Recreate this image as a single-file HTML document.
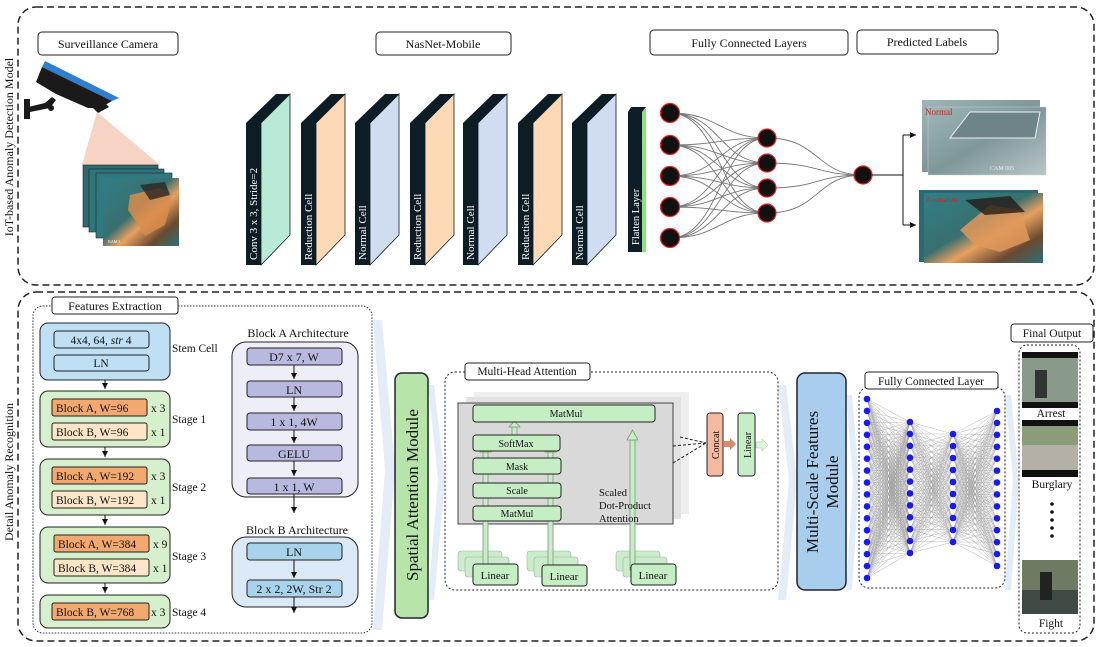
<!DOCTYPE html>
<html><head><meta charset="utf-8"><style>
body{margin:0;background:#fff;width:1099px;height:647px;overflow:hidden}
svg{display:block}
text{font-family:"Liberation Serif",serif;fill:#111}
</style></head><body>
<svg id="s" width="1099" height="647" viewBox="0 0 1099 647" xmlns="http://www.w3.org/2000/svg">
<defs>
<linearGradient id="fire" x1="0" y1="0" x2="1" y2="1"><stop offset="0" stop-color="#2f7f86"/><stop offset="0.45" stop-color="#3a6f70"/><stop offset="0.6" stop-color="#e8a060"/><stop offset="0.8" stop-color="#6a4a30"/><stop offset="1" stop-color="#2c6f79"/></linearGradient>
<linearGradient id="room" x1="0" y1="0" x2="1" y2="1"><stop offset="0" stop-color="#9fb6b8"/><stop offset="0.5" stop-color="#7f9799"/><stop offset="1" stop-color="#b9c6c8"/></linearGradient>
<marker id="ah" markerWidth="8" markerHeight="8" refX="6" refY="3" orient="auto"><path d="M0,0 L6,3 L0,6z" fill="#111"/></marker>
</defs>
<rect x="18" y="7" width="1076" height="278" rx="18" fill="none" stroke="#222" stroke-width="1.5" stroke-dasharray="7,4"/>
<rect x="18" y="292" width="1076" height="349" rx="18" fill="none" stroke="#222" stroke-width="1.5" stroke-dasharray="7,4"/>
<text transform="translate(13,147) rotate(-90)" font-size="12" text-anchor="middle">IoT-based Anomaly Detection Model</text>
<text transform="translate(13,472) rotate(-90)" font-size="12" text-anchor="middle">Detail Anomaly Recognition</text>

<g font-size="12" text-anchor="middle">
<rect x="38" y="32" width="140" height="23" rx="4" fill="#fff" stroke="#222"/><text x="108" y="48">Surveillance Camera</text>
<rect x="376" y="32" width="135" height="23" rx="4" fill="#fff" stroke="#222"/><text x="443" y="48">NasNet-Mobile</text>
<rect x="650" y="30" width="198" height="25" rx="4" fill="#fff" stroke="#222"/><text x="749" y="47">Fully Connected Layers</text>
<rect x="857" y="30" width="141" height="24" rx="4" fill="#fff" stroke="#222"/><text x="927" y="46">Predicted Labels</text>
</g>

<!-- camera -->
<path d="M45,61 L119,98 L112,101 L42,67z" fill="#2e7fd0"/>
<path d="M42,67 L112,101 L100,108 L88,108 L56,94 L36,82 Z" fill="#1a1a1a"/>
<path d="M93,108 L104,102 L109,107 L98,113z" fill="#1a1a1a"/>
<path d="M28,107 L45,103 L52,97 L56,100 L50,108 L30,112z" fill="#1a1a1a"/>
<rect x="24" y="99" width="6" height="20" fill="#1a1a1a"/>
<circle cx="51" cy="108" r="3" fill="#1a1a1a"/>
<path d="M97,112 L82,165 L160,165 Z" fill="#f6d3c2"/>
<g>
<rect x="83" y="165" width="75" height="62" fill="#2a6a70" stroke="#222" stroke-width="0.6"/>
<rect x="89" y="169" width="75" height="63" fill="#2f767c" stroke="#222" stroke-width="0.6"/>
<rect x="96" y="173" width="76" height="65" fill="#2f7a80" stroke="#222" stroke-width="0.6"/>
<rect x="103" y="178" width="76" height="68" fill="url(#fire)"/>
<path d="M130,195 L160,188 L172,200 L165,225 L145,236 L135,220 L128,210z" fill="#d98c4c" opacity="0.85"/>
<path d="M140,185 L165,182 L170,195 L150,200z" fill="#2b2522" opacity="0.8"/>
<text x="108" y="243" font-size="4" style="fill:#fff">KAM 2</text>
</g>

<g id="cells"></g>
<rect x="628" y="112" width="14" height="140" fill="#0d1d26"/>
<rect x="642" y="109" width="4" height="143" fill="#8fe080"/>
<path d="M628,112 L631,107 L646,107 L642,112z" fill="#0d1d26"/>
<text transform="translate(639,245) rotate(-90)" font-size="10.5" style="fill:#fff">Flatten Layer</text>

<g id="topfc"></g>
<path d="M872,175 L903,175 M903,135 L903,225" stroke="#111" fill="none"/>
<path d="M903,135 L916,135" stroke="#111" marker-end="url(#ah)"/>
<path d="M903,225 L916,225" stroke="#111" marker-end="url(#ah)"/>
<rect x="922" y="100" width="118" height="72" fill="url(#room)"/>
<rect x="928" y="107" width="118" height="68" fill="url(#room)" stroke="#ccc" stroke-width="0.5"/>
<path d="M950,138 L970,112 L1040,112 L1035,138z" fill="#6e8488" stroke="#eee" stroke-width="1"/>
<text x="925" y="115" font-size="9" style="fill:#c22">Normal</text>
<text x="990" y="170" font-size="6" style="fill:#eee">CAM 005</text>
<rect x="919" y="190" width="119" height="72" fill="#2a6a70"/>
<rect x="924" y="193" width="119" height="70" fill="url(#fire)"/>
<path d="M960,230 L990,205 L1020,210 L1030,240 L1000,252 L975,245z" fill="#e0985a" opacity="0.85"/>
<path d="M965,200 L1010,196 L1025,212 L985,215z" fill="#241c18" opacity="0.8"/>
<text x="926" y="202" font-size="7" style="fill:#c22">Anomalous</text>

<g fill="#e3ecf7">
<path d="M373,320 L382,320 L395,470 L382,630 L373,630 L385,470z"/>
<path d="M428,385 L434,385 L445,480 L434,600 L428,600 L438,480z"/>
<path d="M778,385 L786,385 L797,480 L786,600 L778,600 L789,480z"/>
<path d="M846,395 L852,395 L859,480 L852,590 L846,590 L853,480z"/>
<path d="M1005,395 L1011,395 L1019,480 L1011,590 L1005,590 L1013,480z"/>
</g>

<rect x="33" y="306" width="339" height="327" rx="10" fill="none" stroke="#334" stroke-dasharray="1.5,1.5"/>
<rect x="52" y="297" width="126" height="17" rx="3" fill="#fff" stroke="#222"/>
<text x="115" y="310" font-size="12" text-anchor="middle">Features Extraction</text>
<g font-size="11.5">
<rect x="40" y="323" width="130" height="57" rx="8" fill="#bfe0f4" stroke="#222"/>
<rect x="54" y="331" width="95" height="17" rx="3" fill="#bfe0f4" stroke="#222"/><text x="101" y="344" text-anchor="middle">4x4, 64, <tspan font-style="italic">str</tspan> 4</text>
<rect x="54" y="355" width="95" height="16" rx="3" fill="#bfe0f4" stroke="#222"/><text x="101" y="367" text-anchor="middle">LN</text>
<text x="172" y="352">Stem Cell</text>
<rect x="40" y="391" width="130" height="56" rx="8" fill="#d6efcc" stroke="#222"/>
<rect x="52" y="399" width="95" height="17" rx="2" fill="#f3a870" stroke="#222"/><text x="56" y="412">Block A, W=96</text><text x="151" y="412">x 3</text>
<rect x="52" y="423" width="95" height="17" rx="2" fill="#fde6c8" stroke="#222"/><text x="56" y="436">Block B, W=96</text><text x="151" y="436">x 1</text>
<text x="172" y="423">Stage 1</text>
<rect x="40" y="459" width="130" height="56" rx="8" fill="#d6efcc" stroke="#222"/>
<rect x="52" y="467" width="95" height="17" rx="2" fill="#f3a870" stroke="#222"/><text x="56" y="480">Block A, W=192</text><text x="151" y="480">x 3</text>
<rect x="52" y="491" width="95" height="17" rx="2" fill="#fde6c8" stroke="#222"/><text x="56" y="504">Block B, W=192</text><text x="151" y="504">x 1</text>
<text x="172" y="491">Stage 2</text>
<rect x="40" y="527" width="130" height="56" rx="8" fill="#d6efcc" stroke="#222"/>
<rect x="54" y="535" width="95" height="17" rx="2" fill="#f3a870" stroke="#222"/><text x="58" y="548">Block A, W=384</text><text x="153" y="548">x 9</text>
<rect x="54" y="559" width="95" height="17" rx="2" fill="#fde6c8" stroke="#222"/><text x="58" y="572">Block B, W=384</text><text x="153" y="572">x 1</text>
<text x="172" y="560">Stage 3</text>
<rect x="40" y="595" width="130" height="33" rx="8" fill="#d6efcc" stroke="#222"/>
<rect x="52" y="603" width="97" height="17" rx="2" fill="#f3a870" stroke="#222"/><text x="56" y="616">Block B, W=768</text><text x="151" y="616">x 3</text>
<text x="172" y="616">Stage 4</text>
</g>
<g stroke="#111" fill="none" marker-end="url(#ah)">
<path d="M105,380 V389"/><path d="M105,447 V457"/><path d="M105,515 V525"/><path d="M105,583 V593"/>
</g>

<g font-size="12" text-anchor="middle">
<text x="298" y="337">Block A Architecture</text>
<rect x="232" y="342" width="126" height="155" rx="14" fill="#eeeef8" stroke="#222"/>
<rect x="247" y="348" width="95" height="17" rx="3" fill="#b9b9e0" stroke="#222"/><text x="294" y="361">D7 x 7, W</text>
<rect x="247" y="381" width="95" height="16" rx="3" fill="#b9b9e0" stroke="#222"/><text x="294" y="394">LN</text>
<rect x="247" y="413" width="95" height="17" rx="3" fill="#b9b9e0" stroke="#222"/><text x="294" y="426">1 x 1, 4W</text>
<rect x="247" y="445" width="95" height="16" rx="3" fill="#b9b9e0" stroke="#222"/><text x="294" y="458">GELU</text>
<rect x="247" y="478" width="95" height="16" rx="3" fill="#b9b9e0" stroke="#222"/><text x="294" y="491">1 x 1, W</text>
<text x="297" y="534">Block B Architecture</text>
<rect x="232" y="537" width="126" height="70" rx="14" fill="#dbe9f7" stroke="#222"/>
<rect x="247" y="543" width="95" height="17" rx="3" fill="#a9d3ea" stroke="#222"/><text x="294" y="556">LN</text>
<rect x="247" y="580" width="95" height="17" rx="3" fill="#a9d3ea" stroke="#222"/><text x="294" y="593">2 x 2, 2W, Str 2</text>
</g>
<g stroke="#111" fill="none" marker-end="url(#ah)">
<path d="M294,365 V379"/><path d="M294,397 V411"/><path d="M294,430 V443"/><path d="M294,461 V476"/><path d="M294,494 V513"/>
<path d="M294,560 V578"/><path d="M294,597 V613"/>
</g>

<rect x="395" y="373" width="33" height="245" rx="7" fill="#b7e4a9" stroke="#223" stroke-width="1.5"/>
<text transform="translate(418,495) rotate(-90)" font-size="17" text-anchor="middle">Spatial Attention Module</text>

<rect x="445" y="372" width="333" height="218" rx="10" fill="none" stroke="#222" stroke-dasharray="2,2"/>
<rect x="465" y="363" width="125" height="17" rx="3" fill="#fff" stroke="#222"/>
<text x="527" y="375" font-size="11.5" text-anchor="middle">Multi-Head Attention</text>
<rect x="474" y="392" width="215" height="122" fill="#eeeeee"/>
<rect x="466" y="397" width="215" height="122" fill="#e2e2e2"/>
<rect x="458" y="403" width="215" height="121" fill="#d9d9d9" stroke="#444"/>
<g fill="#c6e9c4" stroke="#8aa" stroke-width="0.6" opacity="0.9">
<rect x="458" y="551" width="44" height="20" rx="3"/><rect x="465" y="557" width="44" height="20" rx="3"/>
<rect x="527" y="551" width="44" height="20" rx="3"/><rect x="534" y="557" width="44" height="20" rx="3"/>
<rect x="616" y="551" width="44" height="20" rx="3"/><rect x="623" y="557" width="44" height="20" rx="3"/>
</g>
<g fill="#c9ebc6" stroke="#7a9a7a" stroke-width="0.8">
<rect x="483" y="452" width="5" height="120"/><rect x="548" y="452" width="5" height="120"/><rect x="630" y="440" width="5" height="130"/>
<path d="M627,440 L632.5,430 L638,440z"/>
<path d="M480,452 L485.5,446 L491,452z"/><path d="M545,452 L550.5,446 L556,452z"/>
<rect x="512" y="427" width="5" height="8"/><path d="M509,427 L514.5,421 L520,427z"/>
</g>
<g font-size="10" text-anchor="middle">
<rect x="473" y="405" width="182" height="17" rx="3" fill="#c6eec4" stroke="#222"/><text x="566" y="417">MatMul</text>
<rect x="473" y="435" width="87" height="16" rx="3" fill="#c6eec4" stroke="#222"/><text x="516" y="447">SoftMax</text>
<rect x="473" y="458" width="88" height="16" rx="3" fill="#c6eec4" stroke="#222"/><text x="517" y="470">Mask</text>
<rect x="473" y="483" width="88" height="15" rx="3" fill="#c6eec4" stroke="#222"/><text x="517" y="494">Scale</text>
<rect x="473" y="506" width="88" height="15" rx="3" fill="#c6eec4" stroke="#222"/><text x="517" y="517">MatMul</text>
</g>
<text x="599" y="496" font-size="10.5">Scaled</text>
<text x="599" y="509" font-size="10.5">Dot-Product</text>
<text x="599" y="522" font-size="10.5">Attention</text>
<g font-size="11" text-anchor="middle">
<rect x="473" y="564" width="45" height="21" rx="3" fill="#c6eec4" stroke="#222"/><text x="495" y="579">Linear</text>
<rect x="542" y="565" width="45" height="21" rx="3" fill="#c6eec4" stroke="#222"/><text x="564" y="580">Linear</text>
<rect x="631" y="564" width="45" height="21" rx="3" fill="#c6eec4" stroke="#222"/><text x="653" y="579">Linear</text>
</g>
<path d="M680,437 L706,443 M673,446 L706,443 M673,463 L706,443" stroke="#222" stroke-dasharray="3,2" fill="none"/>
<rect x="707" y="413" width="16" height="63" rx="3" fill="#f4b9a0" stroke="#222"/>
<text transform="translate(719,445) rotate(-90)" font-size="10" text-anchor="middle">Concat</text>
<path d="M724,441 L730,441 L730,438 L736,444 L730,450 L730,447 L724,447z" fill="#d98a6a"/>
<rect x="738" y="413" width="17" height="63" rx="3" fill="#c6eec4" stroke="#222"/>
<text transform="translate(751,445) rotate(-90)" font-size="10" text-anchor="middle">Linear</text>
<path d="M756,442 L762,442 L762,439 L768,445 L762,451 L762,448 L756,448z" fill="#e0f3de" stroke="#9b9" stroke-width="0.5"/>

<rect x="797" y="373" width="49" height="217" rx="8" fill="#a9cdec" stroke="#223" stroke-width="1.5"/>
<text transform="translate(818,482) rotate(-90)" font-size="17" text-anchor="middle">Multi-Scale Features</text>
<text transform="translate(838,482) rotate(-90)" font-size="17" text-anchor="middle">Module</text>

<rect x="859" y="387" width="146" height="201" rx="10" fill="none" stroke="#222" stroke-dasharray="2,2"/>
<rect x="865" y="372" width="133" height="17" rx="3" fill="#fff" stroke="#222"/>
<text x="931" y="385" font-size="11.5" text-anchor="middle">Fully Connected Layer</text>
<g id="fc"></g>

<rect x="1011" y="324" width="82" height="18" rx="3" fill="#fff" stroke="#222"/>
<text x="1052" y="337" font-size="11.5" text-anchor="middle">Final Output</text>
<rect x="1019" y="345" width="61" height="288" rx="8" fill="none" stroke="#222" stroke-dasharray="2,2"/>
<rect x="1022" y="352" width="56" height="56" fill="#111"/>
<rect x="1022" y="358" width="56" height="44" fill="#8a9a8a"/>
<rect x="1035" y="370" width="12" height="28" fill="#333"/>
<text x="1051" y="417" font-size="11.5" text-anchor="middle">Arrest</text>
<rect x="1022" y="420" width="56" height="57" fill="#111"/>
<rect x="1022" y="426" width="56" height="44" fill="#8c9c7a"/>
<rect x="1022" y="445" width="56" height="25" fill="#b5b0a5"/>
<text x="1052" y="488" font-size="11.5" text-anchor="middle">Burglary</text>
<g fill="#111"><circle cx="1052" cy="504" r="1.8"/><circle cx="1052" cy="512" r="1.8"/><circle cx="1052" cy="520" r="1.8"/><circle cx="1052" cy="528" r="1.8"/><circle cx="1052" cy="536" r="1.8"/></g>
<rect x="1022" y="560" width="56" height="54" fill="#6f7a63"/>
<rect x="1022" y="590" width="56" height="24" fill="#3f4a44"/>
<rect x="1040" y="572" width="12" height="28" fill="#222"/>
<text x="1051" y="627" font-size="11.5" text-anchor="middle">Fight</text>
</svg>
<script>
var NS="http://www.w3.org/2000/svg";
function el(p,t,a,txt){var e=document.createElementNS(NS,t);for(var k in a)e.setAttribute(k,a[k]);if(txt)e.textContent=txt;p.appendChild(e);return e;}
var cg=document.getElementById("cells");
var xs=[246,301,355,410,463,518,572],cols=["#b8ead6","#fdd9b5","#d0dcf0","#fdd9b5","#d0dcf0","#fdd9b5","#d0dcf0"],
lb=["Conv 3 x 3, Stride=2","Reduction Cell","Normal Cell","Reduction Cell","Normal Cell","Reduction Cell","Normal Cell"];
xs.forEach(function(x,i){
 el(cg,"path",{d:"M"+(x+15)+",123 L"+(x+44)+",94 L"+(x+44)+",235 L"+(x+15)+",265z",fill:cols[i],stroke:"#0d1d26","stroke-width":"0.8"});
 el(cg,"path",{d:"M"+x+",123 L"+(x+30)+",94 L"+(x+44)+",94 L"+(x+15)+",123z",fill:"#0d1d26"});
 el(cg,"rect",{x:x,y:123,width:15,height:142,fill:"#0d1d26"});
 el(cg,"text",{transform:"translate("+(x+11)+",260) rotate(-90)","font-size":"11",style:"fill:#fff"},lb[i]);
});
var tg=document.getElementById("topfc");
var L=[113,145,176,207,238],M=[138,163,188,213];
L.forEach(function(a){M.forEach(function(b){el(tg,"path",{d:"M670,"+a+" C720,"+a+" 720,"+b+" 767,"+b,stroke:"#777",fill:"none","stroke-width":"0.9"});});});
M.forEach(function(b){el(tg,"path",{d:"M767,"+b+" C820,"+b+" 815,175 863,175",stroke:"#777",fill:"none","stroke-width":"0.9"});});
L.forEach(function(a){el(tg,"circle",{cx:670,cy:a,r:9.5,fill:"#111",stroke:"#e22","stroke-width":"1.2"});});
M.forEach(function(b){el(tg,"circle",{cx:767,cy:b,r:9,fill:"#111",stroke:"#e22","stroke-width":"1.2"});});
el(tg,"circle",{cx:863,cy:175,r:9,fill:"#111",stroke:"#e22","stroke-width":"1.2"});
var fg=document.getElementById("fc");
function col(x,y0,y1,n){var r=[];for(var i=0;i<n;i++)r.push([x,y0+(y1-y0)*i/(n-1)]);return r;}
var C=[col(867,399,578,16),col(910,422,553,12),col(953,434,542,10),col(997,411,566,14)];
for(var c=0;c<3;c++)C[c].forEach(function(a){C[c+1].forEach(function(b){el(fg,"line",{x1:a[0],y1:a[1],x2:b[0],y2:b[1],stroke:"#999","stroke-width":"0.35"});});});
C.forEach(function(cc){cc.forEach(function(p){el(fg,"circle",{cx:p[0],cy:p[1],r:3.3,fill:"#1a1aee"});});});
</script>
</body></html>
